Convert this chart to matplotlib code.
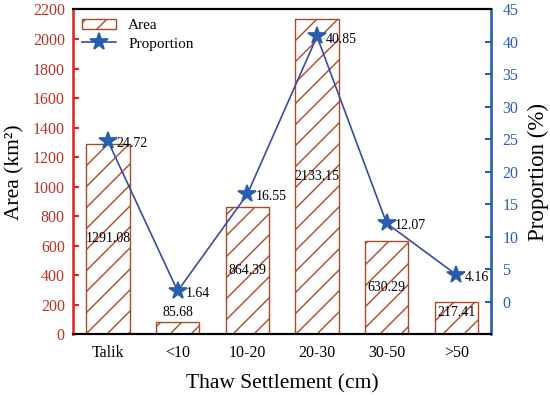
import matplotlib.pyplot as plt
import numpy as np
from matplotlib.lines import Line2D
from matplotlib.patches import Patch

# higher dpi makes the hatch sparser; k rescales sizes so pixels stay the same
DPI = 126
k = 100 / DPI

plt.rcParams['font.family'] = ['Liberation Serif', 'DejaVu Serif']
plt.rcParams['hatch.linewidth'] = 1.0 * k

categories = ['Talik', '<10', '10-20', '20-30', '30-50', '>50']
area = [1291.08, 85.68, 864.39, 2133.15, 630.29, 217.41]
proportion = [24.72, 1.64, 16.55, 40.85, 12.07, 4.16]

red = '#e0201c'
red_txt = '#b8322a'
brown = '#a84a2a'
blue = '#2a5cb0'
line_blue = '#3a4aa8'

fig = plt.figure(figsize=(550 / DPI, 395 / DPI), dpi=DPI)
ax = fig.add_axes([0.133, 0.154, 0.76, 0.822])
x = np.arange(len(categories))

bars = ax.bar(x, area, width=0.62, color='white', edgecolor=brown,
              hatch='//', linewidth=1.0 * k, zorder=2)

for xi, v in zip(x, area):
    ax.text(xi, max(v / 2, 145), f'{v:.2f}', ha='center', va='center',
            fontsize=10 * k, zorder=5)

ax.set_xlim(-0.5, 5.5)
ax.set_ylim(0, 2200)
ax.set_yticks(np.arange(0, 2201, 200))
ax.set_xticks(x)
ax.set_xticklabels(categories, fontsize=11.5 * k)
ax.tick_params(axis='y', direction='in', colors=red, labelcolor=red_txt,
               labelsize=11.5 * k, length=4 * k, width=1.5 * k, pad=6 * k)
ax.tick_params(axis='x', direction='in', length=4 * k, width=1.5 * k, pad=8 * k)
ax.set_ylabel('Area (km²)', fontsize=15.5 * k, labelpad=6 * k)
ax.set_xlabel('Thaw Settlement (cm)', fontsize=15.5 * k, labelpad=9 * k)
ax.spines['left'].set_color(red)
ax.spines['left'].set_linewidth(1.8 * k)
ax.spines['bottom'].set_linewidth(1.5 * k)
ax.spines['top'].set_linewidth(1.5 * k)

ax2 = ax.twinx()
ax2.plot(x, proportion, color=line_blue, linewidth=1.2 * k, marker='*',
         markersize=13 * k, markerfacecolor=blue, markeredgecolor=blue, zorder=4)
for xi, p in zip(x, proportion):
    ax2.text(xi + 0.12, p - 0.4, f'{p:.2f}', ha='left', va='center',
             fontsize=10 * k, zorder=5)
ax2.set_ylim(-5, 45)
ax2.set_yticks(np.arange(0, 46, 5))
ax2.tick_params(axis='y', direction='in', colors=blue, labelcolor=blue,
                labelsize=11.5 * k, length=4 * k, width=1.5 * k, pad=8 * k)
ax2.set_ylabel('Proportion (%)', fontsize=16.5 * k, labelpad=7 * k)
ax2.spines['right'].set_color(blue)
ax2.spines['right'].set_linewidth(1.8 * k)
ax2.spines['left'].set_visible(False)
ax2.spines['top'].set_linewidth(1.5 * k)
ax2.spines['bottom'].set_linewidth(1.5 * k)

handles = [Patch(facecolor='white', edgecolor=brown, hatch='//',
                 linewidth=1.0 * k, label='Area'),
           Line2D([0], [0], color=line_blue, linewidth=1.2 * k, marker='*',
                  markersize=13 * k, markerfacecolor=blue, markeredgecolor=blue,
                  label='Proportion')]
ax2.legend(handles=handles, loc='upper left', frameon=False, fontsize=11 * k,
           borderaxespad=0.2, handlelength=2.2, labelspacing=0.3)

fig.savefig('out.png', dpi=DPI)
